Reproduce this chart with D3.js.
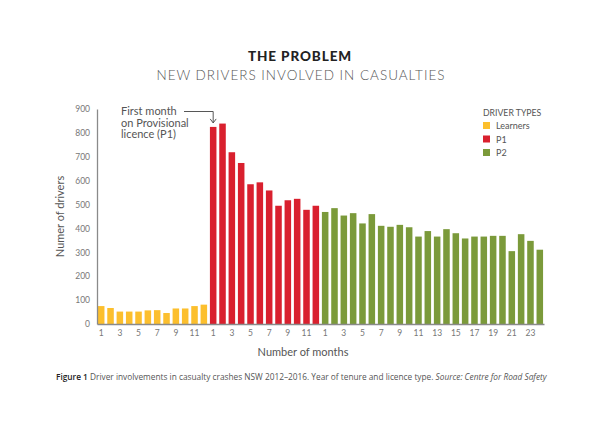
<!DOCTYPE html>
<html>
<head>
<meta charset="utf-8">
<script src="https://cdn.jsdelivr.net/npm/d3@7"></script>
<style>
  body { margin: 0; background: #fff; }
  text { font-family: "Lato", "Noto Sans", sans-serif; }
</style>
</head>
<body>
<script>
// values
var learners = [75, 67, 52, 52, 52, 57, 58, 46, 65, 65, 75, 81];
var p1 = [825, 839, 719, 674, 585, 593, 559, 495, 518, 524, 478, 495];
var p2 = [469, 485, 454, 464, 421, 460, 411, 407, 415, 405, 366, 389,
          366, 397, 380, 358, 366, 366, 369, 369, 305, 376, 348, 311];
var types = ["Learners", "P1", "P2"];
var colours = ["#fcbf2d", "#d9202e", "#7b9a3a"];
var yTicks = [0, 100, 200, 300, 400, 500, 600, 700, 800, 900];

var W = 600, H = 433;
var plotL = 97, plotR = 544, plotT = 109, plotB = 324;

var bars = [];
[learners, p1, p2].forEach(function (series, s) {
    series.forEach(function (v, i) {
        bars.push({ type: types[s], month: i + 1, value: v, key: types[s] + "-" + (i + 1) });
    });
});

var svg = d3.select("body").append("svg")
    .attr("width", W)
    .attr("height", H);

var x = d3.scaleBand()
    .domain(bars.map(function (d) { return d.key; }))
    .range([plotL, plotR])
    .paddingInner(0.3)
    .paddingOuter(0.1);

var y = d3.scaleLinear()
    .domain([0, 900])
    .range([plotB, plotT]);

var colour = d3.scaleOrdinal().domain(types).range(colours);

// titles
svg.append("text")
    .attr("x", 300).attr("y", 61)
    .attr("text-anchor", "middle")
    .attr("font-size", 13.5).attr("font-weight", 900)
    .attr("letter-spacing", 0.9)
    .attr("fill", "#222")
    .text("THE PROBLEM");
svg.append("text")
    .attr("x", 301).attr("y", 80)
    .attr("text-anchor", "middle")
    .attr("font-size", 13.5).attr("font-weight", 300)
    .attr("letter-spacing", 1.0)
    .attr("fill", "#555")
    .text("NEW DRIVERS INVOLVED IN CASUALTIES");

// bars
svg.selectAll("rect.bar")
    .data(bars)
    .enter().append("rect")
    .attr("class", "bar")
    .attr("x", function (d) { return x(d.key); })
    .attr("y", function (d) { return y(d.value); })
    .attr("width", x.bandwidth())
    .attr("height", function (d) { return y(0) - y(d.value); })
    .attr("fill", function (d) { return colour(d.type); });

// y axis
var yAxis = svg.append("g")
    .attr("transform", "translate(" + plotL + ",0)")
    .call(d3.axisLeft(y).tickValues(yTicks).tickSize(0).tickPadding(7));
yAxis.select(".domain").attr("stroke", "#8a8a8a").attr("stroke-width", 1.3);
yAxis.selectAll("text").attr("font-size", 8.5).attr("fill", "#777")
    .style("font-family", "Lato, sans-serif");

// x axis
var xAxis = svg.append("g")
    .attr("transform", "translate(0," + plotB + ")")
    .call(d3.axisBottom(x)
        .tickValues(bars.filter(function (d) { return d.month % 2 == 1; }).map(function (d) { return d.key; }))
        .tickFormat(function (k) { return k.split("-")[1]; })
        .tickSize(0).tickPadding(6));
xAxis.select(".domain").attr("stroke", "#8a8a8a").attr("stroke-width", 1.3);
xAxis.selectAll("text").attr("font-size", 8.5).attr("fill", "#777")
    .style("font-family", "Lato, sans-serif");

// axis titles
svg.append("text")
    .attr("transform", "translate(64," + ((plotT + plotB) / 2) + ") rotate(-90)")
    .attr("text-anchor", "middle")
    .attr("font-size", 11).attr("fill", "#555")
    .text("Numer of drivers");
svg.append("text")
    .attr("x", 303).attr("y", 356)
    .attr("text-anchor", "middle")
    .attr("font-size", 11).attr("fill", "#555")
    .text("Number of months");

// annotation
var note = ["First month", "on Provisional", "licence (P1)"];
svg.selectAll("text.note")
    .data(note)
    .enter().append("text")
    .attr("class", "note")
    .attr("x", 121)
    .attr("y", function (d, i) { return 115 + i * 11.5; })
    .attr("font-size", 11).attr("fill", "#555")
    .text(function (d) { return d; });

var first = bars.filter(function (d) { return d.type == "P1"; })[0];
var ax = x(first.key) + x.bandwidth() / 2;
svg.append("path")
    .attr("d", "M184," + 111.5 + "H" + ax + "V" + (y(first.value) - 4))
    .attr("fill", "none").attr("stroke", "#444").attr("stroke-width", 0.9);
svg.append("path")
    .attr("d", "M" + (ax - 3) + "," + (y(first.value) - 8) + "L" + ax + "," + (y(first.value) - 4) + "L" + (ax + 3) + "," + (y(first.value) - 8))
    .attr("fill", "none").attr("stroke", "#444").attr("stroke-width", 0.9);

// legend
var lg = svg.append("g").attr("transform", "translate(483,0)");
lg.append("text")
    .attr("x", 0).attr("y", 116)
    .attr("font-size", 8.7).attr("fill", "#555")
    .text("DRIVER TYPES");
var item = lg.selectAll("g.item")
    .data(types)
    .enter().append("g")
    .attr("class", "item")
    .attr("transform", function (d, i) { return "translate(0," + (122 + i * 13.5) + ")"; });
item.append("rect")
    .attr("width", 7).attr("height", 7)
    .attr("fill", function (d) { return colour(d); });
item.append("text")
    .attr("x", 13).attr("y", 7)
    .attr("font-size", 9).attr("fill", "#555")
    .text(function (d) { return d; });

// caption
var cap = svg.append("text")
    .attr("x", 56).attr("y", 380)
    .attr("font-size", 8.3).attr("fill", "#555")
    .style("font-family", "'Open Sans', sans-serif");
cap.append("tspan").attr("font-weight", 600).attr("fill", "#222").text("Figure 1 ");
cap.append("tspan").text("Driver involvements in casualty crashes NSW 2012–2016. Year of tenure and licence type. ");
cap.append("tspan").attr("font-style", "italic").text("Source: Centre for Road Safety");
</script>
</body>
</html>
